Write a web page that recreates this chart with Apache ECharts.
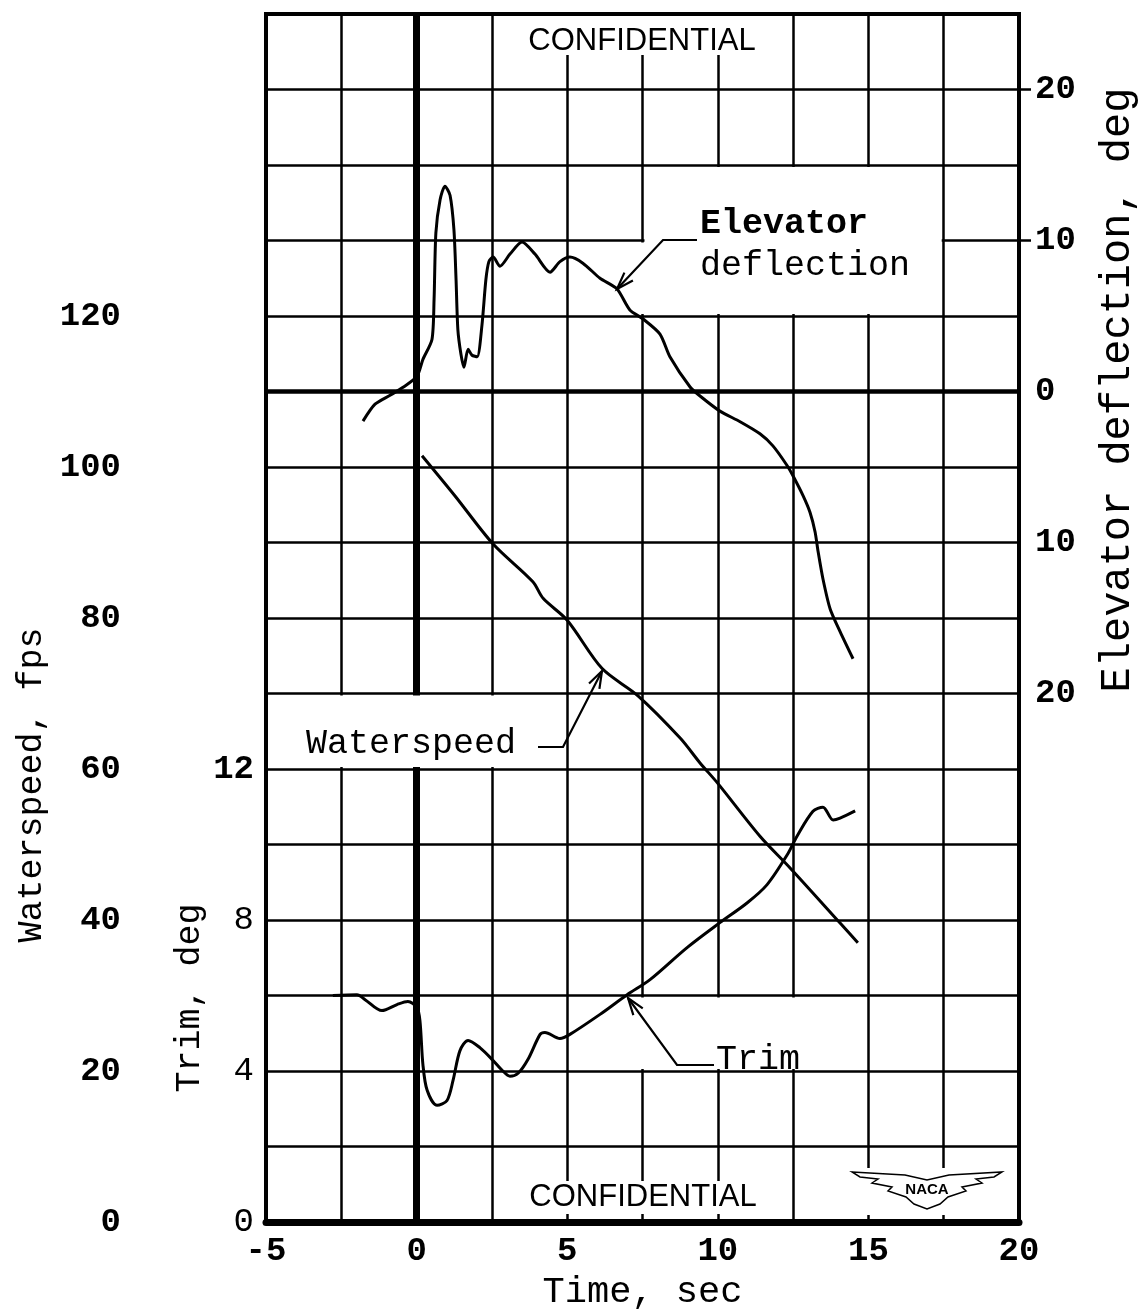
<!DOCTYPE html>
<html>
<head>
<meta charset="UTF-8">
<title>Waterspeed, trim and elevator deflection</title>
<script src="https://cdn.jsdelivr.net/npm/echarts@6.0.0/dist/echarts.min.js"></script>
<style>
    *{
        padding: 0;
        margin: 0;
    }
    #main{
        width: 1147px;
        height: 1316px;
        background: #fff;
    }
</style>
</head>
<body>
<div id="main"></div>
<script>
// tick labels
var timeTicks = [-5, 0, 5, 10, 15, 20];
var speedTicks = [0, 20, 40, 60, 80, 100, 120];
var trimTicks = [0, 4, 8, 12];
var elevTicks = [-20, -10, 0, 10, 20];

// waterspeed, fps
var speedTime = [0.18, 1.27, 2.54, 3.86, 4.2, 5.0, 6.16, 7.35, 8.75, 9.41, 10.0, 11.4, 12.4, 14.06, 14.65];
var speedVal  = [101.5, 96.2, 89.8, 84.8, 82.6, 79.7, 73.3, 69.7, 64.1, 60.8, 58.1, 51.1, 46.9, 39.6, 37.0];

// trim, deg
var trimTime = [-2.78, -1.98, -1.71, -1.15, -0.65, -0.29, 0.01, 0.11, 0.21, 0.35, 0.68, 1.01, 1.21, 1.44, 1.71,
                2.10, 2.54, 2.84, 3.10, 3.37, 3.70, 4.10, 4.26, 4.76, 5.09, 6.09, 6.99, 7.75, 8.98, 10.07,
                10.97, 11.63, 12.30, 12.63, 13.16, 13.49, 13.83, 14.06, 14.56];
var trimVal  = [6.0, 6.02, 5.89, 5.6, 5.76, 5.84, 5.68, 5.34, 4.17, 3.49, 3.09, 3.22, 3.75, 4.54, 4.81,
                4.62, 4.28, 4.02, 3.86, 3.94, 4.31, 4.97, 5.02, 4.86, 4.97, 5.50, 6.02, 6.42, 7.27, 7.93,
                8.45, 8.93, 9.72, 10.22, 10.88, 10.99, 10.65, 10.70, 10.89];

// elevator deflection, deg (up positive)
var elevTime = [-1.78, -1.38, -0.88, -0.45, 0.01, 0.21, 0.51, 0.58, 0.64, 0.78, 0.94, 1.11, 1.24, 1.31, 1.37,
                1.47, 1.57, 1.71, 1.84, 2.01, 2.17, 2.30, 2.40, 2.54, 2.77, 3.10, 3.50, 3.93, 4.43, 4.76,
                5.09, 5.52, 6.09, 6.65, 7.08, 7.52, 8.08, 8.41, 9.08, 9.41, 10.07, 10.74, 11.40, 11.83, 12.30,
                12.50, 12.83, 13.06, 13.23, 13.33, 13.49, 13.73, 14.06, 14.49];
var elevVal  = [-1.96, -0.84, -0.25, 0.28, 1.0, 2.13, 3.45, 6.1, 10.5, 12.7, 13.6, 13.0, 10.7, 7.4, 4.1,
                2.5, 1.6, 2.8, 2.4, 2.3, 4.4, 7.4, 8.6, 8.9, 8.3, 9.1, 9.9, 9.1, 7.9, 8.6,
                8.9, 8.5, 7.5, 6.8, 5.4, 4.8, 3.8, 2.3, 0.3, -0.3, -1.3, -2.0, -2.8, -3.6, -4.9,
                -5.6, -6.9, -8.0, -9.3, -10.6, -12.4, -14.4, -15.9, -17.7];

function pairs(xs, ys) {
    var out = [];
    for (var i = 0; i < xs.length; i++) out.push([xs[i], ys[i]]);
    return out;
}

var mono = '"Liberation Mono", "DejaVu Sans Mono", monospace';
var sans = '"Liberation Sans", Arial, sans-serif';

var myChart = echarts.init(document.getElementById('main'));

var option = {
    backgroundColor: '#fff',
    animation: false,
    grid: {
        left: 266, right: 128, top: 14, bottom: 91,
        show: true, borderColor: '#000', borderWidth: 4
    },
    xAxis: {
        type: 'value', min: -5, max: 20, interval: 2.5,
        axisLine: {show: true, lineStyle: {color: '#000', width: 7}},
        axisTick: {show: false},
        splitLine: {show: true, lineStyle: {color: '#000', width: 2.5}},
        axisLabel: {
            color: '#000', fontFamily: mono, fontSize: 34, fontWeight: 'bold', margin: 12,
            formatter: function (v) { return timeTicks.indexOf(v) >= 0 ? String(v) : ''; }
        },
        name: 'Time, sec', nameLocation: 'middle', nameGap: 52,
        nameTextStyle: {color: '#000', fontFamily: mono, fontSize: 37}
    },
    yAxis: [{
        // waterspeed
        type: 'value', min: 0, max: 160, interval: 10, position: 'left',
        axisLine: {show: false}, axisTick: {show: false},
        splitLine: {show: true, lineStyle: {color: '#000', width: 2.5}},
        axisLabel: {
            color: '#000', fontFamily: mono, fontSize: 34, fontWeight: 'bold', margin: 145,
            formatter: function (v) { return speedTicks.indexOf(v) >= 0 ? String(v) : ''; }
        }
    }, {
        // trim
        type: 'value', min: 0, max: 32, interval: 4, position: 'left',
        axisLine: {show: false}, axisTick: {show: false}, splitLine: {show: false},
        axisLabel: {
            color: '#000', fontFamily: mono, fontSize: 34, margin: 12,
            formatter: function (v) {
                if (trimTicks.indexOf(v) < 0) return '';
                return v === 12 ? '{b|12}' : String(v);
            },
            rich: {b: {fontWeight: 'bold', fontFamily: mono, fontSize: 34, color: '#000'}}
        }
    }, {
        // elevator deflection
        type: 'value', min: -55, max: 25, interval: 5, position: 'right',
        axisLine: {show: false}, splitLine: {show: false},
        axisTick: {show: true, customValues: [10, 20], length: 12, lineStyle: {color: '#000', width: 2.5}},
        axisLabel: {
            color: '#000', fontFamily: mono, fontSize: 34, fontWeight: 'bold', margin: 16,
            formatter: function (v) { return elevTicks.indexOf(v) >= 0 ? String(Math.abs(v)) : ''; }
        }
    }],
    series: [{
        type: 'line', data: [], z: 1, yAxisIndex: 0,
        markLine: {
            z: 1, silent: true, symbol: 'none', label: {show: false},
            lineStyle: {color: '#000', width: 7, type: 'solid'},
            data: [{xAxis: 0}]
        }
    }, {
        type: 'line', data: [], z: 1, yAxisIndex: 2,
        markLine: {
            z: 1, silent: true, symbol: 'none', label: {show: false},
            lineStyle: {color: '#000', width: 4.5, type: 'solid'},
            data: [{yAxis: 0}]
        }
    }, {
        name: 'Waterspeed', type: 'line', yAxisIndex: 0, z: 3,
        data: pairs(speedTime, speedVal),
        showSymbol: false, smooth: 0.3,
        lineStyle: {color: '#000', width: 3}
    }, {
        name: 'Trim', type: 'line', yAxisIndex: 1, z: 3,
        data: pairs(trimTime, trimVal),
        showSymbol: false, smooth: 0.3,
        lineStyle: {color: '#000', width: 3}
    }, {
        name: 'Elevator deflection', type: 'line', yAxisIndex: 2, z: 3,
        data: pairs(elevTime, elevVal),
        showSymbol: false, smooth: 0.25,
        lineStyle: {color: '#000', width: 3}
    }]
};

myChart.setOption(option);

// label boxes that blank out the grid, in (time, waterspeed) units
var boxes = [
    [7.5, 17.5, 120, 140],
    [-5, 5, 60, 70],
    [5, 15, 20, 30]
];

function px(t, v) {
    return myChart.convertToPixel({xAxisIndex: 0, yAxisIndex: 0}, [t, v]);
}

var g = [];
boxes.forEach(function (b) {
    var p0 = px(b[0], b[3]), p1 = px(b[1], b[2]);
    g.push({type: 'rect', z: 2, silent: true,
        shape: {x: p0[0] + 2, y: p0[1] + 2, width: p1[0] - p0[0] - 4, height: p1[1] - p0[1] - 4},
        style: {fill: '#fff'}});
});
// the elevator box also opens its lower-left grid line
(function () {
    var a = px(7.5, 130), b = px(7.5, 120);
    g.push({type: 'rect', z: 2, silent: true,
        shape: {x: a[0] - 3, y: a[1] + 2, width: 6, height: b[1] - a[1] - 4},
        style: {fill: '#fff'}});
})();

// CONFIDENTIAL stamps and NACA wings
g.push({type: 'rect', z: 2, silent: true, shape: {x: 520, y: 16, width: 245, height: 39}, style: {fill: '#fff'}});
g.push({type: 'rect', z: 2, silent: true, shape: {x: 520, y: 1181, width: 245, height: 33}, style: {fill: '#fff'}});
g.push({type: 'rect', z: 2, silent: true, shape: {x: 848, y: 1168, width: 158, height: 47}, style: {fill: '#fff'}});
g.push({type: 'text', z: 4, silent: true,
    style: {text: 'CONFIDENTIAL', x: 642, y: 41, fill: '#000', font: '31px ' + sans, textAlign: 'center', textVerticalAlign: 'middle'}});
g.push({type: 'text', z: 4, silent: true,
    style: {text: 'CONFIDENTIAL', x: 643, y: 1197, fill: '#000', font: '31px ' + sans, textAlign: 'center', textVerticalAlign: 'middle'}});
g.push({type: 'polygon', z: 4, silent: true,
    shape: {points: [[852, 1172], [905, 1175], [927, 1180], [949, 1175], [1002, 1172], [994, 1177], [976, 1179],
        [982, 1183], [962, 1187], [966, 1191], [948, 1197], [940, 1204], [927, 1209], [914, 1204], [906, 1197],
        [888, 1191], [892, 1187], [872, 1183], [878, 1179], [860, 1177]]},
    style: {fill: '#fff', stroke: '#000', lineWidth: 1.5}});
g.push({type: 'text', z: 5, silent: true,
    style: {text: 'NACA', x: 927, y: 1190, fill: '#000', font: 'bold 15px ' + sans, textAlign: 'center', textVerticalAlign: 'middle'}});

// curve labels
function txt(s, x, y, weight) {
    g.push({type: 'text', z: 4, silent: true,
        style: {text: s, x: x, y: y, fill: '#000', font: (weight || 'normal') + ' 35px ' + mono, textAlign: 'left', textVerticalAlign: 'middle'}});
}
txt('Elevator', 700, 224, 'bold');
txt('deflection', 700, 266);
txt('Waterspeed', 306, 744);
txt('Trim', 716, 1060);

// leader lines with open arrowheads
function leader(points) {
    g.push({type: 'polyline', z: 4, silent: true, shape: {points: points},
        style: {stroke: '#000', lineWidth: 2.2, fill: null}});
    var tip = points[points.length - 1], from = points[points.length - 2];
    var dx = from[0] - tip[0], dy = from[1] - tip[1], len = Math.sqrt(dx * dx + dy * dy);
    dx /= len; dy /= len;
    var head = [];
    [0.33, -0.33].forEach(function (a) {
        var c = Math.cos(a), s = Math.sin(a);
        head.push([tip[0] + 18 * (dx * c - dy * s), tip[1] + 18 * (dx * s + dy * c)]);
    });
    g.push({type: 'polyline', z: 4, silent: true, shape: {points: [head[0], tip, head[1]]},
        style: {stroke: '#000', lineWidth: 2.2, fill: null}});
}
leader([[697, 240], [663, 240], [617, 289]]);
leader([[538, 747], [563, 747], [602, 671]]);
leader([[714, 1065], [677, 1065], [628, 998]]);

// axis titles
function vtitle(s, x, y, size) {
    g.push({type: 'text', z: 4, silent: true, x: x, y: y, rotation: Math.PI / 2,
        style: {text: s, x: 0, y: 0, fill: '#000', font: size + 'px ' + mono, textAlign: 'center', textVerticalAlign: 'middle'}});
}
vtitle('Waterspeed, fps', 32, 785, 35);
vtitle('Trim, deg', 190, 998, 35);
vtitle('Elevator deflection, deg', 1118, 390, 42);

myChart.setOption({graphic: g});
</script>
</body>
</html>
